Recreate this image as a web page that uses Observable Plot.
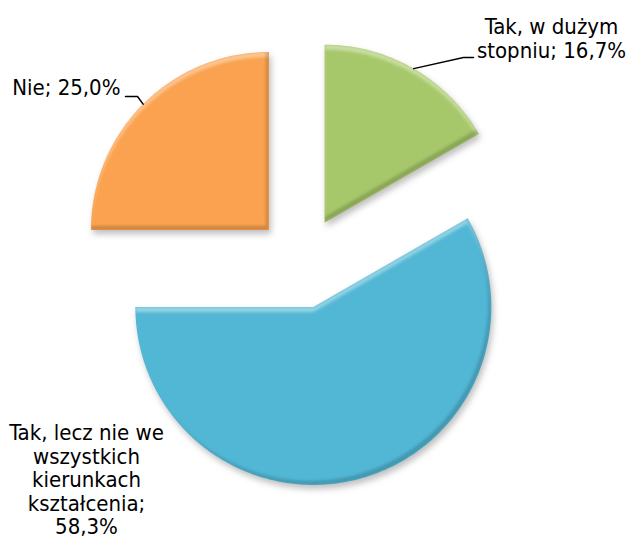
<!DOCTYPE html>
<html>
<head>
<meta charset="utf-8">
<script src="https://cdn.jsdelivr.net/npm/d3@7"></script>
<script src="https://cdn.jsdelivr.net/npm/@observablehq/plot@0.6"></script>
<style>
  html, body { margin: 0; padding: 0; background: #fff; }
  #chart { width: 627px; height: 543px; }
</style>
</head>
<body>
<div id="chart"></div>
<script>
// ---- data ----
const categories = ["Tak, w dużym stopniu", "Tak, lecz nie we wszystkich kierunkach kształcenia", "Nie"];
const values = [16.7, 58.3, 25.0];
const labelTexts = ["Tak, w dużym\nstopniu; 16,7%", "Tak, lecz nie we\nwszystkich\nkierunkach\nkształcenia;\n58,3%", "Nie; 25,0%"];
const colors = ["#a7c86a", "#52b7d5", "#faa24f"];

// ---- layout (pixels) ----
const W = 627, H = 543;
const center = [301, 262], radius = 178, explode = 46;
const labelLayout = [
  {x: 551, y: 17, anchor: "middle", elbow: [463, 57], end: [473, 57]},
  {x: 86, y: 423, anchor: "middle"},
  {x: 120, y: 78, anchor: "end", elbow: [137, 96], end: [125, 96]}
];

const arcs = d3.pie().sort(null).value(d => d)(values);
const slices = [];
const leaders = [];
const labels = [];
arcs.forEach((a, i) => {
  const mid = (a.startAngle + a.endAngle) / 2;
  const ax = center[0] + explode * Math.sin(mid);
  const ay = center[1] - explode * Math.cos(mid);
  slices.push({k: categories[i], x: ax, y: ay});
  const n = Math.max(2, Math.ceil((a.endAngle - a.startAngle) / (Math.PI / 180)));
  for (let j = 0; j <= n; j++) {
    const t = a.startAngle + (a.endAngle - a.startAngle) * j / n;
    slices.push({k: categories[i], x: ax + radius * Math.sin(t), y: ay - radius * Math.cos(t)});
  }
  const L = labelLayout[i];
  if (L.elbow) {
    leaders.push({k: categories[i], x: ax + radius * Math.sin(mid), y: ay - radius * Math.cos(mid)});
    leaders.push({k: categories[i], x: L.elbow[0], y: L.elbow[1]});
    leaders.push({k: categories[i], x: L.end[0], y: L.end[1]});
  }
  labels.push({text: labelTexts[i], x: L.x, y: L.y, anchor: L.anchor});
});

const fs = 22;
const plot = Plot.plot({
  width: W, height: H,
  margin: 0,
  x: {domain: [0, W], axis: null},
  y: {domain: [0, H], reverse: true, axis: null},
  color: {domain: categories, range: colors},
  style: {background: "#fff", overflow: "visible"},
  marks: [
    Plot.line(slices, {x: "x", y: "y", z: "k", fill: "k", stroke: "none", curve: "linear-closed"}),
    Plot.line(leaders, {x: "x", y: "y", z: "k", stroke: "#000", strokeWidth: 1.5}),
    ...labels.map(l => Plot.text([l], {
      x: "x", y: "y", text: "text", textAnchor: l.anchor, lineAnchor: "top",
      lineHeight: 23.5 / fs, fontSize: fs, fill: "#000",
      fontFamily: "'DejaVu Sans Condensed', 'DejaVu Sans', sans-serif"
    }))
  ]
});

// bevel / shadow decoration
const defs = `
<defs>
<filter id="bevel" x="-15%" y="-15%" width="135%" height="135%" color-interpolation-filters="sRGB">
  <feOffset in="SourceAlpha" dx="0" dy="5" result="offDown"/>
  <feComposite in="SourceAlpha" in2="offDown" operator="out" result="topBand"/>
  <feGaussianBlur in="topBand" stdDeviation="1.6" result="topBlur"/>
  <feFlood flood-color="#ffffff" flood-opacity="0.4"/>
  <feComposite in2="topBlur" operator="in"/>
  <feComposite in2="SourceAlpha" operator="in" result="hi"/>
  <feOffset in="SourceAlpha" dx="-3" dy="-4" result="offUp"/>
  <feComposite in="SourceAlpha" in2="offUp" operator="out" result="botBand"/>
  <feGaussianBlur in="botBand" stdDeviation="1.8" result="botBlur"/>
  <feFlood flood-color="#000000" flood-opacity="0.18"/>
  <feComposite in2="botBlur" operator="in"/>
  <feComposite in2="SourceAlpha" operator="in" result="lo"/>
  <feGaussianBlur in="SourceAlpha" stdDeviation="3" result="sb"/>
  <feOffset in="sb" dx="2" dy="4" result="sbo"/>
  <feFlood flood-color="#000000" flood-opacity="0.25"/>
  <feComposite in2="sbo" operator="in" result="shadow"/>
  <feMerge>
    <feMergeNode in="shadow"/>
    <feMergeNode in="SourceGraphic"/>
    <feMergeNode in="hi"/>
    <feMergeNode in="lo"/>
  </feMerge>
</filter>
</defs>`;
plot.insertAdjacentHTML("afterbegin", defs);
d3.select(plot).select("g[aria-label=line]").selectAll("path").attr("filter", "url(#bevel)");
document.getElementById("chart").appendChild(plot);
</script>
</body>
</html>
